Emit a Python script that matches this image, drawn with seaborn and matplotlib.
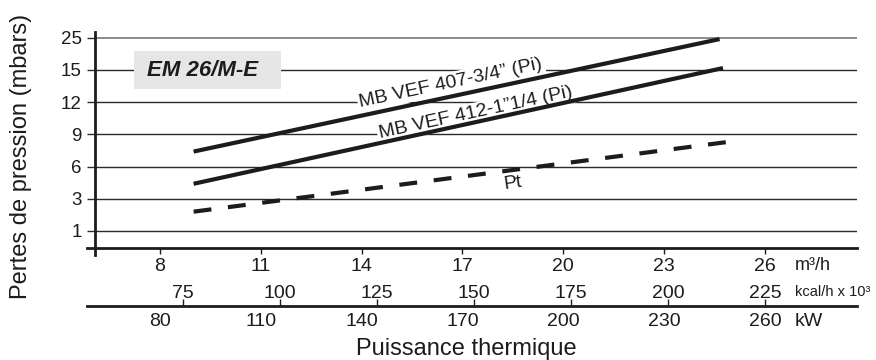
import numpy as np
import pandas as pd
import matplotlib
matplotlib.use("Agg")
import matplotlib.pyplot as plt
from matplotlib.patches import Rectangle
from matplotlib.ticker import FixedLocator, FixedFormatter, NullLocator
import seaborn as sns

# Pressure losses (mbar) versus gas flow (m3/h)
debit_407 = [9.0, 24.65]
perte_407 = [7.4, 24.6]
debit_412 = [9.0, 24.75]
perte_412 = [4.4, 15.6]
debit_pt = [9.0, 24.9]
perte_pt = [2.2, 8.3]

serie_407 = "MB VEF 407-3/4\u201d (Pi)"
serie_412 = "MB VEF 412-1\u201d1/4 (Pi)"
serie_pt = "Pt"

y_ticks = [1, 3, 6, 9, 12, 15, 25]
m3h_ticks = [8, 11, 14, 17, 20, 23, 26]
kcal_ticks = [75, 100, 125, 150, 175, 200, 225]
kw_ticks = [80, 110, 140, 170, 200, 230, 260]

KW_PER_M3H = 10.0
KCAL_PER_KW = 0.865

sns.set_style("white")
plt.rcParams["font.family"] = ["Liberation Sans", "DejaVu Sans"]
INK = "#1c1c1c"

df = pd.DataFrame({
    "debit": debit_407 + debit_412 + debit_pt,
    "perte": perte_407 + perte_412 + perte_pt,
    "serie": [serie_407] * 2 + [serie_412] * 2 + [serie_pt] * 2,
})

# Pressure axis: evenly spaced graduations 1, 3, 6, 9, 12, 15, 25
_vals = np.array([-1.0] + y_ticks + [35.0])
_pos = np.arange(-1.0, len(y_ticks) + 1.0)


def to_pos(v):
    return np.interp(v, _vals, _pos)


def to_val(p):
    return np.interp(p, _pos, _vals)


fig = plt.figure(figsize=(8.76, 3.6), dpi=100)
ax = fig.add_axes([95 / 876, 1 - 248 / 360, 762 / 876, 216 / 360])
ax.set_yscale("function", functions=(to_pos, to_val))

x_lo, x_hi = 6.066, 28.738
ax.set_xlim(x_lo, x_hi)
ax.set_ylim(to_val(-0.528), to_val(6.18))

sns.lineplot(
    data=df, x="debit", y="perte", hue="serie", style="serie",
    palette=[INK] * 3,
    dashes={serie_407: "", serie_412: "", serie_pt: (4.3, 4.0)},
    linewidth=3.0, legend=False, sort=False, estimator=None,
    solid_capstyle="butt", dash_capstyle="butt", zorder=4, ax=ax,
)
ax.set_xlabel("")
ax.set_ylabel("")

# grid and spines
ax.yaxis.set_major_locator(FixedLocator(y_ticks))
ax.yaxis.set_major_formatter(FixedFormatter([str(t) for t in y_ticks]))
ax.yaxis.set_minor_locator(NullLocator())
ax.set_axisbelow(True)
ax.grid(axis="y", color="#2a2a2a", linewidth=1.0)
ax.grid(axis="x", visible=False)
ax.yaxis.get_gridlines()[-1].set_color("#8a8a8a")
ax.yaxis.get_gridlines()[-1].set_linewidth(1.4)
for side in ("top", "right"):
    ax.spines[side].set_visible(False)
for side in ("left", "bottom"):
    ax.spines[side].set_color(INK)
    ax.spines[side].set_linewidth(2.0)
ax.spines["bottom"].set_bounds(5.83, x_hi)
ax.spines["left"].set_bounds(to_val(-0.745), to_val(6.18))
ax.tick_params(axis="y", direction="out", length=5.5, width=1.0, color="#2a2a2a",
               pad=4, labelsize=13.5, labelcolor=INK, left=True)

ax.xaxis.set_major_locator(FixedLocator(m3h_ticks))
ax.set_xticklabels([str(t) for t in m3h_ticks])
ax.tick_params(axis="x", direction="out", length=4, width=1.0, color=INK,
               pad=3, labelsize=14, labelcolor=INK, bottom=True)

# curve labels
ax.text(16.66, 13.8, serie_407, rotation=12.0, ha="center", va="center",
        rotation_mode="anchor", fontsize=14, color=INK, zorder=3,
        bbox=dict(facecolor="white", edgecolor="none", pad=1.5))
ax.text(17.40, 10.98, serie_412, rotation=12.2, ha="center", va="center",
        rotation_mode="anchor", fontsize=14, color=INK, zorder=3,
        bbox=dict(facecolor="white", edgecolor="none", pad=1.5))
ax.text(18.5, 4.49, serie_pt, rotation=8.0, ha="center", va="center",
        rotation_mode="anchor", fontsize=14, color=INK, zorder=3)

# model tag
ax.add_patch(Rectangle((0.0512, 0.736), 0.193, 0.176, transform=ax.transAxes,
                       facecolor="#e6e6e6", edgecolor="none", zorder=2))
ax.text(0.141, 0.824, "EM 26/M-E", transform=ax.transAxes, ha="center",
        va="center", fontsize=16, fontweight="bold", fontstyle="italic",
        color=INK, zorder=3)

# power scales: kW below the line, kcal/h x 10^3 above it
ax2 = fig.add_axes([95 / 876, 1 - 306 / 360, 762 / 876, 0.0001])
ax2.set_facecolor("none")
ax2.set_xlim(x_lo * KW_PER_M3H, x_hi * KW_PER_M3H)
ax2.set_yticks([])
for side in ("top", "right", "left"):
    ax2.spines[side].set_visible(False)
ax2.spines["bottom"].set_color(INK)
ax2.spines["bottom"].set_linewidth(2.0)
ax2.spines["bottom"].set_bounds(58.3, x_hi * KW_PER_M3H)
ax2.set_xticks(kw_ticks)
ax2.set_xticklabels([str(t) for t in kw_ticks])
ax2.tick_params(axis="x", direction="out", length=4, width=1.0, color=INK,
                pad=1, labelsize=14, labelcolor=INK)

sec = ax2.secondary_xaxis("top", functions=(lambda kw: kw * KCAL_PER_KW,
                                            lambda kc: kc / KCAL_PER_KW))
sec.spines["top"].set_visible(False)
sec.set_xticks(kcal_ticks)
sec.set_xticklabels([str(t) for t in kcal_ticks])
sec.tick_params(axis="x", direction="out", length=5, width=1.0, color=INK,
                pad=-2, labelsize=14, labelcolor=INK)

# unit captions
fig.text(795 / 876, 1 - 265 / 360, "m\u00b3/h", ha="left", va="center",
         fontsize=13, color=INK)
fig.text(795 / 876, 1 - 292 / 360, "kcal/h x 10\u00b3", ha="left", va="center",
         fontsize=10.5, color=INK)
fig.text(795 / 876, 1 - 321 / 360, "kW", ha="left", va="center",
         fontsize=14, color=INK)

# axis titles
fig.text(21 / 876, 1 - 156 / 360, "Pertes de pression (mbars)", rotation=90,
         ha="center", va="center", fontsize=17, color=INK)
fig.text(466 / 876, 1 - 349 / 360, "Puissance thermique", ha="center",
         va="center", fontsize=17, color=INK)

fig.savefig("out.png", dpi=100)
